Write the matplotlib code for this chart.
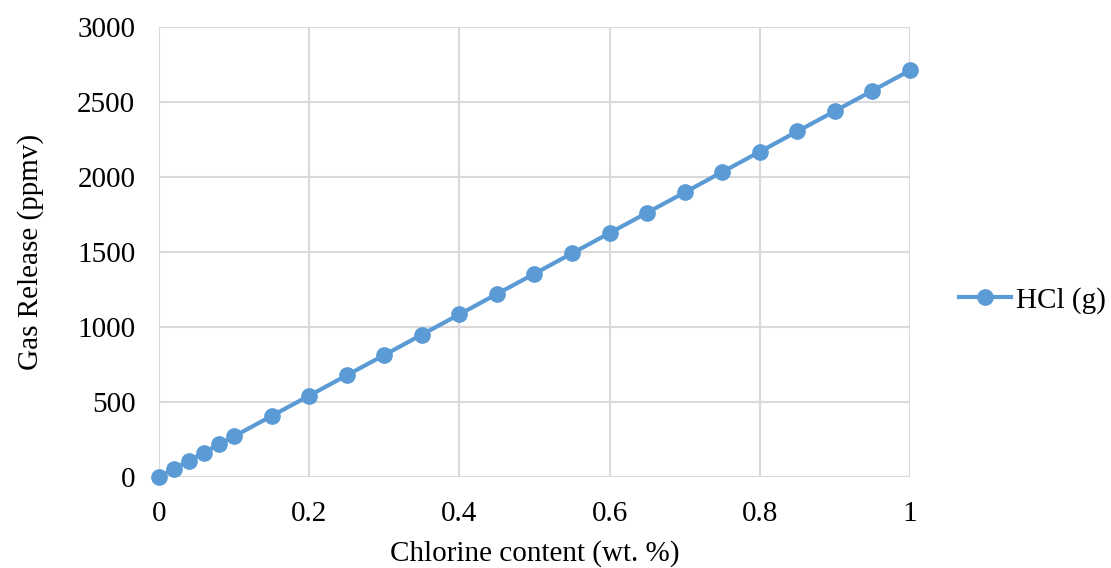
import matplotlib.pyplot as plt

# chlorine content (wt. %) and HCl(g) release (ppmv)
chlorine = [0, 0.02, 0.04, 0.06, 0.08, 0.1, 0.15, 0.2, 0.25, 0.3, 0.35, 0.4,
            0.45, 0.5, 0.55, 0.6, 0.65, 0.7, 0.75, 0.8, 0.85, 0.9, 0.95, 1.0]
hcl = [0, 54, 108, 163, 217, 271, 407, 542, 678, 813, 949, 1084,
       1220, 1355, 1491, 1626, 1762, 1897, 2033, 2168, 2304, 2439, 2575, 2710]

plt.rcParams['font.family'] = ['Liberation Serif', 'DejaVu Serif']

fig = plt.figure(figsize=(11.11, 5.68), dpi=100)
ax = fig.add_axes([0.1431, 0.1602, 0.819 - 0.1431, 0.9525 - 0.1602])

ax.plot(chlorine, hcl, color='#5B9BD5', linewidth=3, marker='o',
        markersize=11, label='HCl (g)', clip_on=False, zorder=3)

ax.set_xlim(0, 1)
ax.set_ylim(0, 3000)
ax.set_xticks([0, 0.2, 0.4, 0.6, 0.8, 1])
ax.set_xticklabels(['0', '0.2', '0.4', '0.6', '0.8', '1'])
ax.set_yticks(range(0, 3001, 500))
ax.grid(True, color='#D9D9D9', linewidth=1.5)
ax.set_axisbelow(True)
for s in ax.spines.values():
    s.set_visible(False)
ax.tick_params(length=0, labelsize=21)
ax.tick_params(axis='x', pad=17)
ax.tick_params(axis='y', pad=17)

ax.set_xlabel('Chlorine content (wt. %)', fontsize=21, labelpad=10)
ax.set_ylabel('Gas Release (ppmv)', fontsize=21, labelpad=24)

ax.legend(loc='center left', bbox_to_anchor=(1.065, 0.393), frameon=False,
          fontsize=21, handlelength=1.8, handletextpad=0.15,
          borderpad=0, borderaxespad=0)

fig.savefig('out.png', dpi=100)
